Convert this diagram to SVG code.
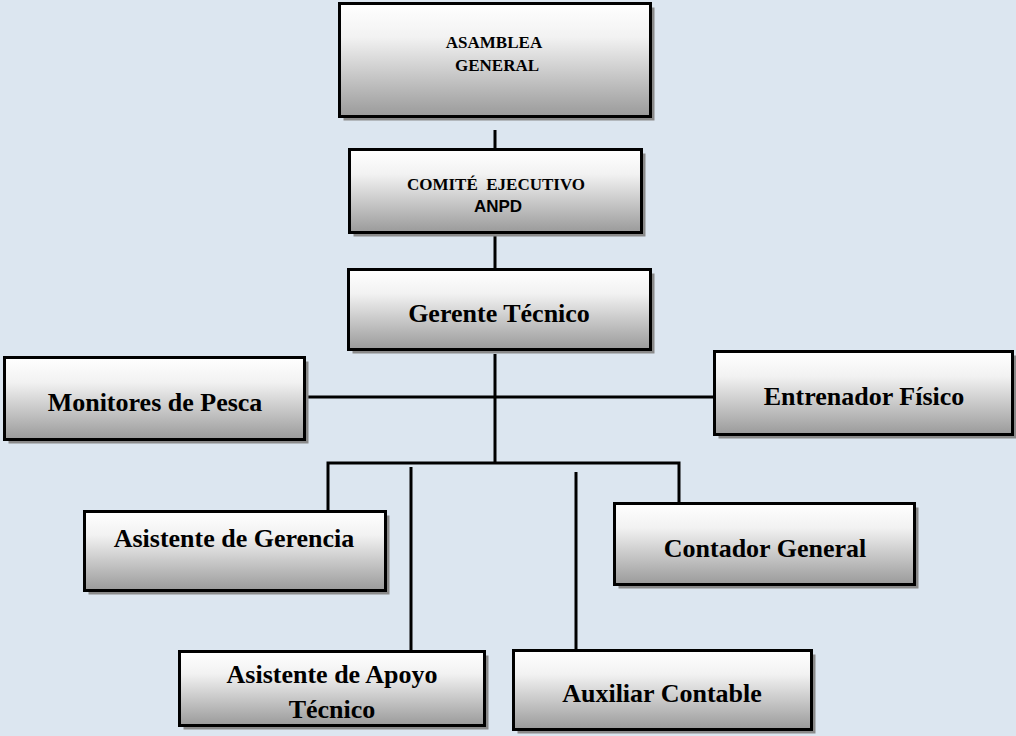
<svg xmlns="http://www.w3.org/2000/svg" width="1016" height="736" viewBox="0 0 1016 736">
  <defs>
    <linearGradient id="boxGrad" x1="0" y1="0" x2="0" y2="1">
      <stop offset="0" stop-color="#ffffff"/>
      <stop offset="0.3" stop-color="#f2f2f2"/>
      <stop offset="1" stop-color="#9a9a9a"/>
    </linearGradient>
  </defs>
  <style>
    .bg { fill: #dce6f0; }
    .shadow { fill: #8a8a8a; }
    .box { fill: url(#boxGrad); stroke: #000; stroke-width: 3; }
    .lbl { font-family: "Liberation Serif", "Times New Roman", serif; font-weight: bold; fill: #000; text-anchor: middle; }
    .big { font-size: 26px; }
    .small { font-size: 17px; }
    .sans { font-family: "Liberation Sans", Arial, sans-serif; font-weight: bold; font-size: 17px; fill: #000; text-anchor: middle; }
    .conn { fill: none; stroke: #000; stroke-width: 3; }
  </style>
  <rect class="bg" x="0" y="0" width="1016" height="736"/>

  <g id="connectors">
    <line class="conn" x1="495" y1="130" x2="495" y2="149"/>
    <line class="conn" x1="495" y1="236" x2="495" y2="269"/>
    <line class="conn" x1="495" y1="354" x2="495" y2="463"/>
    <line class="conn" x1="306" y1="397" x2="714" y2="397"/>
    <path class="conn" d="M328,511 V463 H679 V503"/>
    <line class="conn" x1="411" y1="467" x2="411" y2="651"/>
    <line class="conn" x1="576" y1="472" x2="576" y2="650"/>
  </g>

  <g id="asamblea-general">
    <rect class="shadow" x="343.5" y="7.5" width="311" height="113"/>
    <rect class="box" x="339.5" y="3.5" width="311" height="113"/>
    <text class="lbl small" x="494" y="48">ASAMBLEA</text>
    <text class="lbl small" x="497" y="71">GENERAL</text>
  </g>

  <g id="comite-ejecutivo">
    <rect class="shadow" x="353.5" y="153.5" width="292" height="83"/>
    <rect class="box" x="349.5" y="149.5" width="292" height="83"/>
    <text class="lbl small" x="496" y="190" xml:space="preserve">COMITÉ  EJECUTIVO</text>
    <text class="sans" x="498" y="212">ANPD</text>
  </g>

  <g id="gerente-tecnico">
    <rect class="shadow" x="352.5" y="273.5" width="302" height="80"/>
    <rect class="box" x="348.5" y="269.5" width="302" height="80"/>
    <text class="lbl big" x="499" y="322">Gerente Técnico</text>
  </g>

  <g id="monitores-de-pesca">
    <rect class="shadow" x="8.5" y="361.5" width="300" height="82"/>
    <rect class="box" x="4.5" y="357.5" width="300" height="82"/>
    <text class="lbl big" x="155" y="411">Monitores de Pesca</text>
  </g>

  <g id="entrenador-fisico">
    <rect class="shadow" x="718.5" y="355.5" width="298" height="83"/>
    <rect class="box" x="714.5" y="351.5" width="298" height="83"/>
    <text class="lbl big" x="864" y="405">Entrenador Físico</text>
  </g>

  <g id="asistente-de-gerencia">
    <rect class="shadow" x="88.5" y="515.5" width="301" height="79"/>
    <rect class="box" x="84.5" y="511.5" width="301" height="79"/>
    <text class="lbl big" x="234" y="547">Asistente de Gerencia</text>
  </g>

  <g id="contador-general">
    <rect class="shadow" x="618.5" y="507.5" width="300" height="81"/>
    <rect class="box" x="614.5" y="503.5" width="300" height="81"/>
    <text class="lbl big" x="765" y="557">Contador General</text>
  </g>

  <g id="asistente-de-apoyo-tecnico">
    <rect class="shadow" x="183.5" y="655.5" width="305" height="74"/>
    <rect class="box" x="179.5" y="651.5" width="305" height="74"/>
    <text class="lbl big" x="332" y="683">Asistente de Apoyo</text>
    <text class="lbl big" x="332" y="718">Técnico</text>
  </g>

  <g id="auxiliar-contable">
    <rect class="shadow" x="517.5" y="654.5" width="298" height="79"/>
    <rect class="box" x="513.5" y="650.5" width="298" height="79"/>
    <text class="lbl big" x="662" y="702">Auxiliar Contable</text>
  </g>
</svg>
